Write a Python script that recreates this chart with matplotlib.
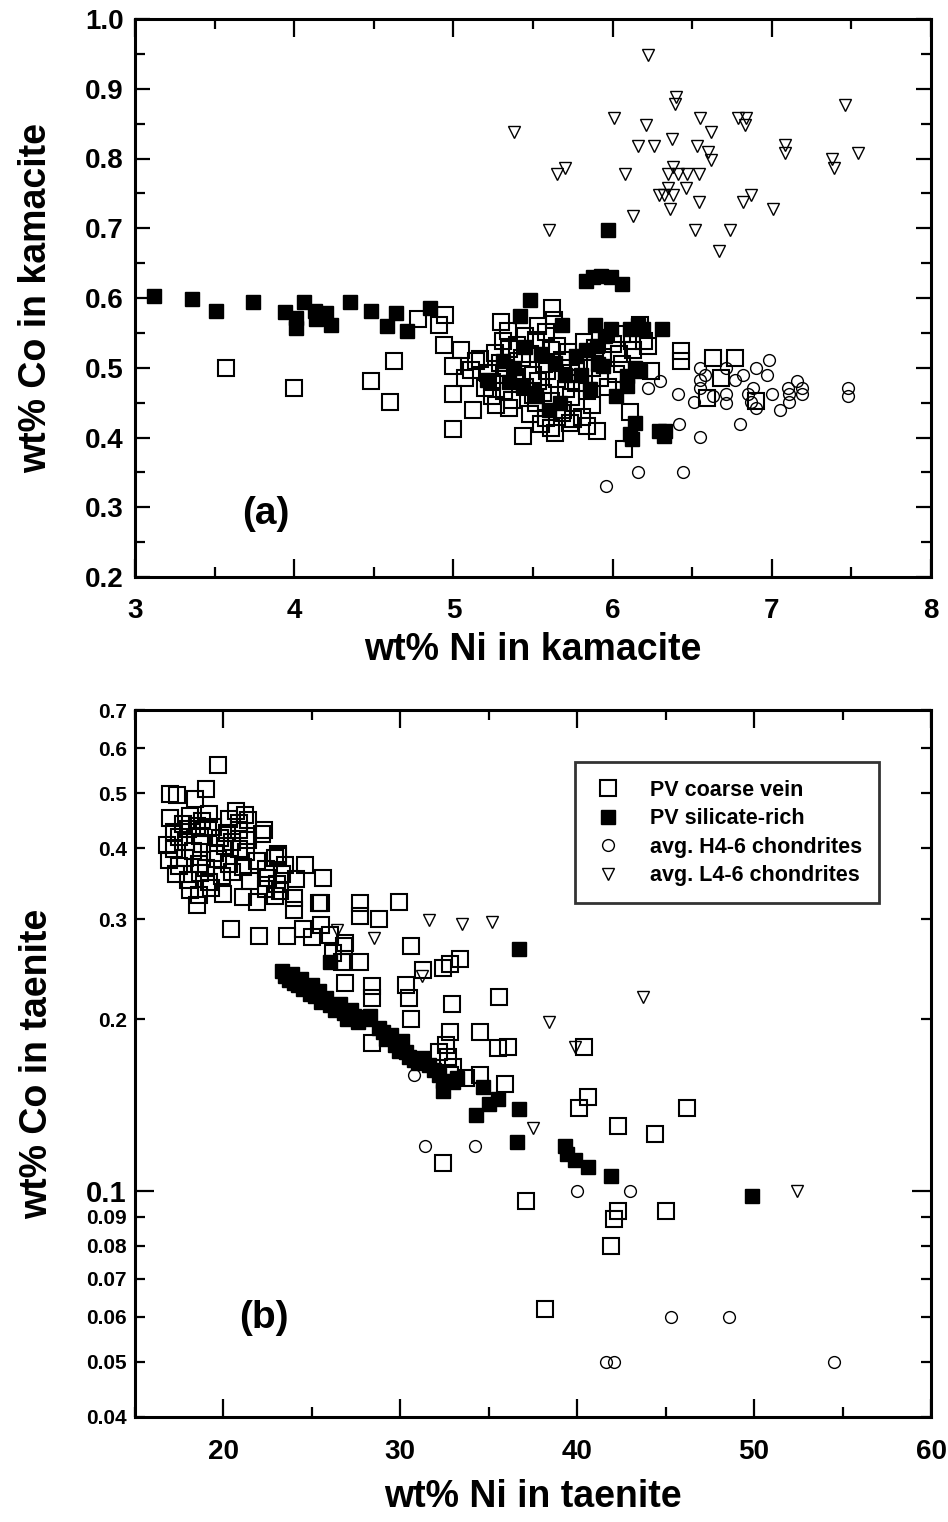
import matplotlib
matplotlib.use("Agg")
import matplotlib.pyplot as plt
from matplotlib.ticker import MultipleLocator, FixedLocator, FuncFormatter

plt.rcParams['font.family'] = ['Liberation Sans', 'DejaVu Sans']
plt.rcParams['font.weight'] = 'bold'

# ---------------- Panel (a): kamacite ----------------
a_open_x = [3.57, 4.00, 4.63, 4.48, 4.60, 4.78, 4.95, 4.91, 4.94, 5.00, 5.00, 5.00, 5.05, 5.12, 5.14,
            5.44, 5.62, 5.64, 5.75, 5.90, 6.11, 6.07, 6.12, 6.22, 6.24, 6.43, 6.43, 6.63, 6.77, 6.59,
            6.68, 6.90,
            5.30, 5.53, 5.63, 6.17,
            5.34, 5.45, 5.58, 6.06,
            5.31, 5.40, 5.52, 5.65, 5.82, 6.00, 6.20,
            5.26, 5.35, 5.48, 5.61, 5.72, 5.89, 6.04, 6.13,
            5.17, 5.29, 5.43, 5.57, 5.68, 5.79, 5.94, 6.06,
            5.11, 5.22, 5.33, 5.50, 5.59, 5.74, 5.87, 6.02,
            5.07, 5.24, 5.39, 5.53, 5.65, 5.77, 5.92,
            5.20, 5.32, 5.45, 5.56, 5.71, 5.84, 5.97,
            5.24, 5.37, 5.50, 5.61, 5.74,
            5.27, 5.35, 5.52, 5.69, 5.87,
            5.48, 5.58, 5.68, 5.81,
            5.55, 5.61, 5.73, 5.84]
a_open_y = [0.500, 0.471, 0.510, 0.481, 0.451, 0.570, 0.576, 0.562, 0.533, 0.502, 0.462, 0.412, 0.526, 0.440, 0.510,
            0.402, 0.586, 0.407, 0.426, 0.410, 0.436, 0.383, 0.538, 0.531, 0.495, 0.524, 0.510, 0.514, 0.514, 0.457,
            0.486, 0.452,
            0.566, 0.560, 0.568, 0.561,
            0.553, 0.546, 0.551, 0.548,
            0.538, 0.533, 0.540, 0.531, 0.537, 0.534, 0.539,
            0.521, 0.527, 0.519, 0.526, 0.522, 0.528, 0.520, 0.525,
            0.512, 0.507, 0.514, 0.506, 0.511, 0.508, 0.515, 0.505,
            0.497, 0.492, 0.499, 0.490, 0.496, 0.493, 0.500, 0.491,
            0.485, 0.479, 0.487, 0.481, 0.484, 0.478, 0.486,
            0.471, 0.466, 0.473, 0.464, 0.470, 0.467, 0.472,
            0.459, 0.454, 0.461, 0.452, 0.458,
            0.447, 0.442, 0.449, 0.440, 0.446,
            0.433, 0.428, 0.435, 0.429,
            0.419, 0.414, 0.421, 0.416]

a_fill_x = [3.12, 3.36, 3.51, 3.74, 3.94, 4.01, 4.01, 4.06, 4.13, 4.14, 4.20, 4.23, 4.35, 4.48, 4.58,
            4.64, 4.71, 4.85, 5.48, 5.42, 5.68, 5.89, 5.99, 6.11, 6.16, 6.19, 6.31, 5.97, 5.83, 5.88,
            5.93, 5.99, 6.06,
            5.21, 5.31, 5.38, 5.44, 5.52, 5.67, 5.64, 5.77, 5.83, 5.90, 5.91, 5.94, 6.09, 6.09, 6.14,
            6.17, 6.14, 6.12, 6.11, 6.29, 6.33, 6.32, 5.45, 5.55, 5.70, 5.80, 5.86, 5.60, 5.35, 6.02, 5.95]
a_fill_y = [0.603, 0.599, 0.582, 0.594, 0.580, 0.571, 0.557, 0.594, 0.582, 0.570, 0.579, 0.562, 0.594, 0.582, 0.560,
            0.579, 0.552, 0.586, 0.597, 0.574, 0.562, 0.562, 0.555, 0.555, 0.562, 0.555, 0.556, 0.697, 0.625, 0.630,
            0.632, 0.630, 0.620,
            0.483, 0.510, 0.500, 0.474, 0.460, 0.450, 0.507, 0.517, 0.526, 0.531, 0.505, 0.502, 0.488, 0.474, 0.500,
            0.495, 0.421, 0.398, 0.405, 0.410, 0.410, 0.402, 0.530, 0.520, 0.490, 0.490, 0.470, 0.440, 0.480, 0.460, 0.545]

a_h_x = [5.96, 6.16, 6.44, 6.42, 6.55, 6.80, 6.22, 6.30, 6.41, 6.51, 6.55, 6.55, 6.55, 6.71, 6.71,
         6.71, 6.77, 6.82, 6.88, 6.85, 6.87, 6.90, 6.90, 6.97, 6.98, 7.00, 7.05, 7.10, 7.11, 7.11,
         7.16, 7.19, 7.19, 7.48, 7.48, 6.58, 6.63]
a_h_y = [0.331, 0.351, 0.351, 0.420, 0.401, 0.420, 0.471, 0.481, 0.462, 0.451, 0.500, 0.483, 0.471, 0.500, 0.462,
         0.450, 0.483, 0.490, 0.471, 0.462, 0.451, 0.443, 0.500, 0.490, 0.511, 0.462, 0.440, 0.471, 0.462, 0.451,
         0.481, 0.471, 0.462, 0.471, 0.460, 0.490, 0.460]

a_l_x = [6.22, 6.40, 6.39, 7.46, 6.01, 6.21, 6.55, 6.79, 6.84, 6.83, 6.62, 5.38, 6.37, 6.16, 6.26,
         6.53, 6.60, 6.62, 7.08, 7.08, 7.38, 7.39, 7.54, 5.70, 5.65, 6.08, 6.38, 6.35, 6.41, 6.47,
         6.54, 6.35, 6.46, 6.29, 6.32, 6.38, 6.54, 6.82, 6.87, 6.36, 7.01, 6.13, 5.60, 6.52, 6.74, 6.67]
a_l_y = [0.948, 0.888, 0.878, 0.877, 0.858, 0.848, 0.858, 0.858, 0.858, 0.848, 0.838, 0.838, 0.828, 0.818, 0.818,
         0.818, 0.809, 0.798, 0.819, 0.808, 0.799, 0.787, 0.808, 0.787, 0.778, 0.778, 0.788, 0.778, 0.778, 0.778,
         0.778, 0.758, 0.758, 0.748, 0.748, 0.748, 0.738, 0.738, 0.748, 0.727, 0.727, 0.718, 0.697, 0.697, 0.697, 0.667]

# ---------------- Panel (b): taenite ----------------
b_open_x = [19.7, 17.0, 17.4, 18.4, 19.0, 20.7, 21.4, 22.3, 23.1, 24.6, 25.6, 20.4, 22.0, 23.6, 25.5,
            27.7, 29.9, 27.7, 28.8, 30.6, 31.3, 32.4, 33.4, 32.8, 26.9, 28.4, 28.4, 30.3, 30.5, 32.9,
            35.6, 30.6, 28.4, 32.8, 32.6, 34.5, 35.5, 36.1, 26.8, 24.5, 25.0, 25.5, 26.0, 26.2, 26.9,
            26.7, 27.7, 32.7, 40.4, 33.7, 34.5, 35.9, 40.6, 40.1, 46.2, 42.3, 44.4, 32.4, 37.1, 42.3,
            42.1, 45.0, 41.9, 38.2, 32.2, 32.8, 33.0,
            17.0, 17.7, 18.1, 18.5, 18.8, 19.2, 19.4, 20.3, 20.9, 21.2,
            17.2, 17.5, 18.0, 18.7, 19.1, 19.8, 20.2, 20.9, 21.4, 22.2,
            16.8, 17.2, 17.9, 18.3, 18.8, 19.5, 20.1, 20.5, 20.9, 21.3, 23.1,
            16.9, 17.5, 17.8, 18.6, 19.0, 19.7, 20.3, 21.1, 21.9, 22.4, 22.9, 23.5,
            17.3, 18.0, 18.7, 19.2, 19.9, 20.5, 21.5, 22.5, 23.0, 23.3, 24.1,
            18.1, 18.6, 19.3, 20.0, 21.1, 22.4, 22.9, 23.2, 24.0,
            18.5, 21.9, 24.0, 25.4]
b_open_y = [0.561, 0.498, 0.497, 0.489, 0.508, 0.466, 0.448, 0.430, 0.391, 0.373, 0.354, 0.289, 0.280, 0.280, 0.320,
            0.320, 0.322, 0.304, 0.300, 0.269, 0.244, 0.246, 0.255, 0.250, 0.232, 0.229, 0.218, 0.230, 0.218, 0.213,
            0.219, 0.200, 0.182, 0.190, 0.180, 0.190, 0.178, 0.179, 0.269, 0.289, 0.279, 0.293, 0.281, 0.262, 0.272,
            0.252, 0.252, 0.172, 0.179, 0.158, 0.160, 0.154, 0.146, 0.140, 0.140, 0.130, 0.126, 0.112, 0.096, 0.092,
            0.089, 0.092, 0.080, 0.062, 0.175, 0.160, 0.165,
            0.452, 0.441, 0.455, 0.438, 0.447, 0.460, 0.436, 0.451, 0.443, 0.457,
            0.428, 0.419, 0.432, 0.421, 0.435, 0.417, 0.426, 0.430, 0.414, 0.424,
            0.405, 0.398, 0.410, 0.396, 0.407, 0.392, 0.403, 0.411, 0.399, 0.394, 0.388,
            0.381, 0.372, 0.385, 0.375, 0.369, 0.383, 0.376, 0.371, 0.380, 0.368, 0.384, 0.374,
            0.360, 0.352, 0.362, 0.349, 0.358, 0.364, 0.351, 0.355, 0.346, 0.361, 0.353,
            0.338, 0.331, 0.341, 0.333, 0.328, 0.339, 0.330, 0.336, 0.327,
            0.318, 0.322, 0.312, 0.320]

b_fill_x = [23.3, 23.5, 23.7, 23.9, 24.0, 24.2, 24.4, 24.5, 24.7, 24.9, 25.0, 25.2, 25.4, 25.5, 25.8,
            26.0, 26.3, 26.6, 26.8, 27.0, 27.2, 27.4, 27.6, 27.8, 28.0, 28.3, 28.8, 29.0, 29.2, 29.5,
            29.7, 29.9, 30.1, 30.3, 30.5, 30.8, 31.0, 31.3, 31.6, 31.9, 32.2, 32.4, 32.4, 33.0, 33.2,
            34.3, 34.7, 35.0, 35.5, 36.6, 36.7, 36.7, 39.3, 39.4, 39.9, 40.6, 41.9, 49.9, 26.0]
b_fill_y = [0.243, 0.238, 0.235, 0.240, 0.232, 0.230, 0.236, 0.226, 0.228, 0.222, 0.230, 0.220, 0.224, 0.215, 0.218,
            0.212, 0.208, 0.213, 0.205, 0.200, 0.208, 0.203, 0.198, 0.202, 0.200, 0.203, 0.193, 0.190, 0.185, 0.188,
            0.180, 0.176, 0.183, 0.175, 0.172, 0.170, 0.168, 0.171, 0.166, 0.163, 0.160, 0.150, 0.156, 0.155, 0.158,
            0.136, 0.152, 0.142, 0.145, 0.122, 0.139, 0.266, 0.120, 0.116, 0.113, 0.110, 0.106, 0.098, 0.252]

b_h_x = [30.8, 31.4, 34.2, 40.0, 43.0, 45.3, 48.6, 41.6, 42.1, 54.5]
b_h_y = [0.160, 0.120, 0.120, 0.100, 0.100, 0.060, 0.060, 0.050, 0.050, 0.050]

b_l_x = [26.4, 28.5, 31.6, 33.5, 35.2, 31.2, 38.4, 43.7, 39.9, 37.5, 52.4]
b_l_y = [0.287, 0.278, 0.299, 0.294, 0.297, 0.238, 0.198, 0.219, 0.179, 0.129, 0.100]

legend_labels = ["PV coarse vein", "PV silicate-rich", "avg. H4-6 chondrites", "avg. L4-6 chondrites"]

b_major = [0.1]
b_minor = [0.04, 0.05, 0.06, 0.07, 0.08, 0.09, 0.2, 0.3, 0.4, 0.5, 0.6, 0.7]

# ---------------- styles ----------------
open_sq = dict(marker='s', ms=12, mfc='none', mec='black', mew=1.5, ls='none')
fill_sq = dict(marker='s', ms=9.5, mfc='black', mec='black', mew=1.0, ls='none')
circ = dict(marker='o', ms=8.5, mfc='none', mec='black', mew=1.0, ls='none')
tri = dict(marker='v', ms=8, mfc='none', mec='black', mew=1.0, ls='none')

fig = plt.figure(figsize=(9.48, 15.22), dpi=100)
W, H = 948.0, 1522.0
L, R = 135 / W, 931 / W

axa = fig.add_axes([L, 1 - 577 / H, R - L, (577 - 19) / H])
axb = fig.add_axes([L, 1 - 1417 / H, R - L, (1417 - 710) / H])

def style(ax):
    for s in ax.spines.values():
        s.set_linewidth(2.2)
    ax.tick_params(which='both', direction='in', top=True, right=True, width=1.6)

# panel a
axa.plot(a_open_x, a_open_y, **open_sq)
axa.plot(a_fill_x, a_fill_y, **fill_sq)
axa.plot(a_h_x, a_h_y, **circ)
axa.plot(a_l_x, a_l_y, **tri)
axa.set_xlim(3, 8)
axa.set_ylim(0.2, 1.0)
axa.xaxis.set_major_locator(MultipleLocator(1))
axa.xaxis.set_minor_locator(MultipleLocator(0.5))
axa.yaxis.set_major_locator(MultipleLocator(0.1))
axa.yaxis.set_minor_locator(MultipleLocator(0.05))
axa.xaxis.set_major_formatter(FuncFormatter(lambda v, p: "%d" % round(v)))
axa.yaxis.set_major_formatter(FuncFormatter(lambda v, p: "%.1f" % v))
style(axa)
axa.tick_params(axis='x', which='major', length=13, labelsize=20, pad=15)
axa.tick_params(axis='x', which='minor', length=7)
axa.tick_params(axis='y', which='major', length=11, labelsize=20, pad=8)
axa.tick_params(axis='y', which='minor', length=7)
axa.set_xlabel("wt% Ni in kamacite", fontsize=27, fontweight='bold', labelpad=6)
axa.set_ylabel("wt% Co in kamacite", fontsize=27, fontweight='bold', labelpad=22)
axa.text(3.82, 0.29, "(a)", fontsize=28, fontweight='bold', ha='center', va='center')

# panel b
h1, = axb.plot(b_open_x, b_open_y, label=legend_labels[0], **open_sq)
h2, = axb.plot(b_fill_x, b_fill_y, label=legend_labels[1], **fill_sq)
h3, = axb.plot(b_h_x, b_h_y, label=legend_labels[2], **circ)
h4, = axb.plot(b_l_x, b_l_y, label=legend_labels[3], **tri)
axb.set_yscale('log')
axb.set_xlim(15, 60)
axb.set_ylim(0.04, 0.7)
axb.xaxis.set_major_locator(MultipleLocator(10))
axb.xaxis.set_minor_locator(MultipleLocator(5))
axb.yaxis.set_major_locator(FixedLocator(b_major))
axb.yaxis.set_minor_locator(FixedLocator(b_minor))
axb.yaxis.set_major_formatter(FuncFormatter(lambda v, p: "%g" % v))
axb.yaxis.set_minor_formatter(FuncFormatter(lambda v, p: "%g" % v))
axb.xaxis.set_major_formatter(FuncFormatter(lambda v, p: "%d" % round(v)))
style(axb)
axb.tick_params(axis='x', which='major', length=13, labelsize=20, pad=16)
axb.tick_params(axis='x', which='minor', length=7)
axb.tick_params(axis='y', which='major', length=14, labelsize=21, pad=6)
axb.tick_params(axis='y', which='minor', length=7, labelsize=15, pad=6)
axb.set_xlabel("wt% Ni in taenite", fontsize=27, fontweight='bold', labelpad=10)
axb.set_ylabel("wt% Co in taenite", fontsize=27, fontweight='bold', labelpad=22)
axb.text(22.3, 0.0597, "(b)", fontsize=28, fontweight='bold', ha='center', va='center')

leg = axb.legend(handles=[h1, h2, h3, h4], loc='upper right', bbox_to_anchor=(0.935, 0.926),
                 prop={'size': 15.5, 'weight': 'bold'}, frameon=True, fancybox=False,
                 edgecolor='black', handletextpad=1.2, labelspacing=0.35, borderpad=0.8,
                 handlelength=1.5, borderaxespad=0)
leg.get_frame().set_linewidth(2.0)

fig.savefig("out.png", dpi=100)
